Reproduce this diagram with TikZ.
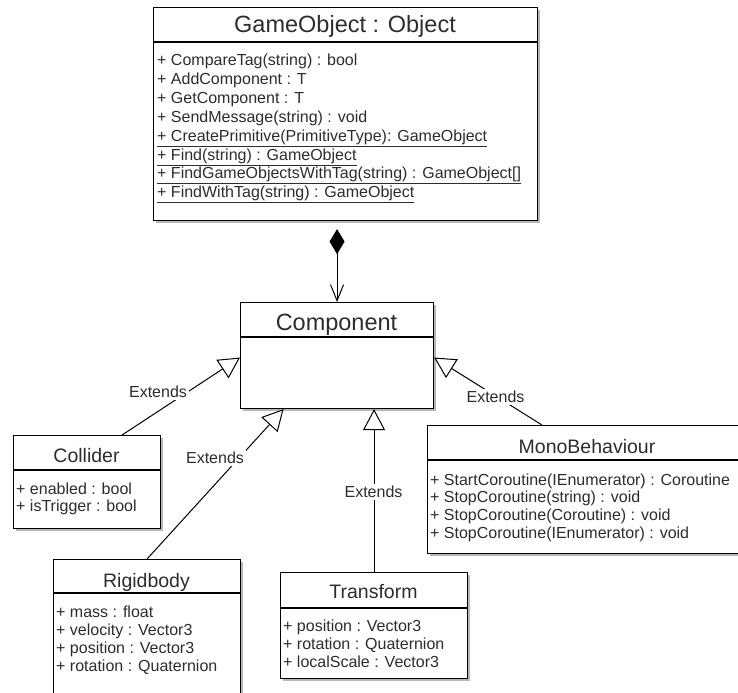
\documentclass[tikz,border=0pt]{standalone}
\usepackage{fontspec}
\setmainfont{Liberation Sans}
\usetikzlibrary{arrows.meta}
\definecolor{shadowgray}{RGB}{184,184,184}
\definecolor{ink}{RGB}{45,45,45}
\tikzset{
  classbox/.style={draw=black, fill=white, line width=1.1bp, inner sep=0pt, anchor=north west},
  sepline/.style={draw=black, line width=1.1bp},
  attr/.style={anchor=base west, inner sep=0pt, text=ink, font=\fontsize{16bp}{18bp}\selectfont},
  ctitle/.style={anchor=base, inner sep=0pt, text=ink, font=\fontsize{19.5bp}{22bp}\selectfont},
  btitle/.style={anchor=base, inner sep=0pt, text=ink, font=\fontsize{23.5bp}{26bp}\selectfont},
  extends/.style={draw=black, line width=1bp, -{Triangle[open, length=21bp, width=22bp, fill=white]}},
  owns/.style={draw=black, line width=1bp, {Diamond[length=25bp, width=15bp, fill=black]}-{Straight Barb[length=16bp, width=13bp]}},
  lbl/.style={fill=white, inner sep=2bp, text=ink, font=\fontsize{16bp}{18bp}\selectfont}
}
% class box: name, left, top, width, height, title row height
\newcommand{\drawclass}[6]{%
  \fill[shadowgray] (#2+3,#3+3) rectangle ++(#4,#5);
  \node[classbox, minimum width=#4bp, minimum height=#5bp] (#1) at (#2,#3) {};
  \draw[sepline] ([yshift=-#6bp]#1.north west) -- ([yshift=-#6bp]#1.north east);
}
\begin{document}
\begin{tikzpicture}[x=1bp, y=-1bp]
\useasboundingbox (0,0) rectangle (738,693);
\clip (0,0) rectangle (738,693);
\fill[white] (0,0) rectangle (738,693);

% boxes
\drawclass{go}{153}{7}{384}{213}{35}
\drawclass{comp}{240}{302}{193}{106}{35}
\drawclass{coll}{13}{435}{147}{93}{35}
\drawclass{rigid}{53}{559}{187}{150}{34}
\drawclass{trans}{280}{572}{187}{106}{36}
\drawclass{mono}{427}{425}{320}{128}{35}

% titles
\node[btitle] (goT) at (345,33) {GameObject : Object};
\node[btitle] (compT) at (336.5,330) {Component};
\node[ctitle] (collT) at (86.5,462) {Collider};
\node[ctitle] (rigidT) at (146.5,587) {Rigidbody};
\node[ctitle] (transT) at (373.5,598) {Transform};
\node[ctitle] (monoT) at (587,453) {MonoBehaviour};

% members
\foreach \t [count=\i] in {
  + CompareTag(string) : bool,
  + AddComponent : T,
  + GetComponent : T,
  + SendMessage(string) : void,
  {\underline{+ CreatePrimitive(PrimitiveType): GameObject}},
  {\underline{+ Find(string) : GameObject}},
  {\underline{+ FindGameObjectsWithTag(string) : GameObject[]}},
  {\underline{+ FindWithTag(string) : GameObject}}}
  \node[attr] (go-\i) at (157,66+18.8*\i-18.8) {\t};

\foreach \t [count=\i] in {+ enabled : bool, + isTrigger : bool}
  \node[attr] (coll-\i) at (16,494+17.5*\i-17.5) {\t};

\foreach \t [count=\i] in {+ mass : float, + velocity : Vector3, + position : Vector3, + rotation : Quaternion}
  \node[attr] (rigid-\i) at (56,617+18.3*\i-18.3) {\t};

\foreach \t [count=\i] in {+ position : Vector3, + rotation : Quaternion, + localScale : Vector3}
  \node[attr] (trans-\i) at (283,631+18*\i-18) {\t};

\foreach \t [count=\i] in {+ StartCoroutine(IEnumerator) : Coroutine, + StopCoroutine(string) : void, + StopCoroutine(Coroutine) : void, + StopCoroutine(IEnumerator) : void}
  \node[attr] (mono-\i) at (430,485+17.7*\i-17.7) {\t};

% composition
\path (go.south -| comp.north) coordinate (ownStart);
\draw[owns] ([yshift=-8bp]ownStart) -- (comp.north);

% generalizations
\draw[extends] ([xshift=-39bp]coll.north east) -- ([yshift=-2bp]comp.west);
\draw[extends] (rigid.north) -- ([xshift=-53.5bp]comp.south);
\draw[extends] (trans.north) -- (trans.north |- comp.south);
\draw[extends] ([xshift=115bp]mono.north west) -- ([yshift=-2bp]comp.east);

\node[lbl] (lblColl) at (158,392) {Extends};
\node[lbl] (lblRigid) at (215,458) {Extends};
\node[lbl] (lblTrans) at (373.5,492) {Extends};
\node[lbl] (lblMono) at (495.5,397) {Extends};
\end{tikzpicture}
\end{document}
